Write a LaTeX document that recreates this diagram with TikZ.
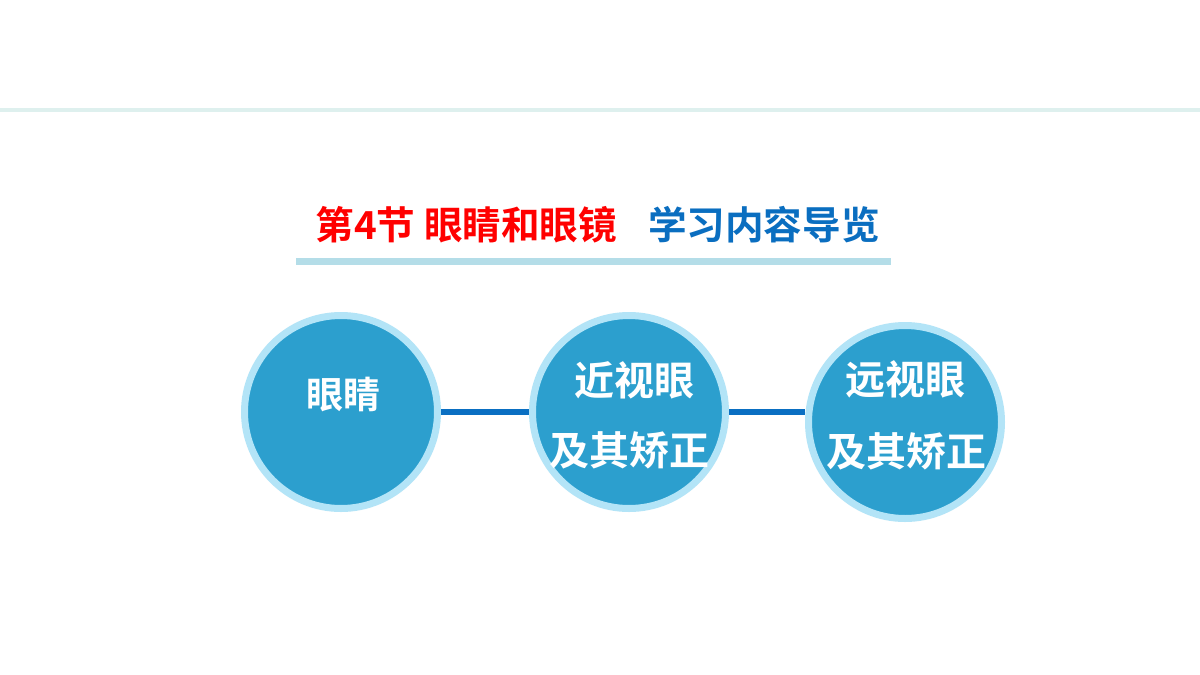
\documentclass[tikz,border=0pt]{standalone}
\usepackage{fontspec}
\newfontfamily\cjk{Noto Sans CJK SC}[BoldFont={Noto Sans CJK SC Bold}]
\definecolor{topline}{HTML}{DEF0EE}
\definecolor{uline}{HTML}{B4DDE8}
\definecolor{ttlred}{HTML}{FF0000}
\definecolor{ttlblue}{HTML}{0A6EC0}
\definecolor{cfill}{HTML}{2C9FCE}
\definecolor{cring}{HTML}{B3E4F7}
\definecolor{conn}{HTML}{0A6FC2}
\tikzset{
  ball/.style={circle, fill=cfill, draw=cring, line width=3.5pt, minimum size=96.5pt, inner sep=0pt},
  conline/.style={draw=conn, line width=3pt},
  ctext/.style={text=white, font=\cjk\bfseries\fontsize{20pt}{24pt}\selectfont, inner sep=0pt},
}
\begin{document}
\begin{tikzpicture}[x=0.5pt,y=-0.5pt]
\useasboundingbox (0,0) rectangle (1200,675);
\fill[white] (0,0) rectangle (1200,675);
\fill[topline] (0,108) rectangle (1200,112);
\fill[uline] (296,258) rectangle (891,265);
\node[anchor=west, inner sep=0pt, font=\cjk\bfseries\fontsize{19.3pt}{23pt}\selectfont] (title) at (315,225)
  {\textcolor{ttlred}{第4节 眼睛和眼镜}\hspace{15.5pt}\textcolor{ttlblue}{学习内容导览}};
\node[ball] (c1) at (341,412) {};
\node[ball] (c2) at (629,412) {};
\node[ball] (c3) at (905,422) {};
\coordinate (c2e) at (c2.east);
\coordinate (c3w) at (c3.west |- c2e);
\draw[conline] (c1.east) -- (c2.west);
\draw[conline] (c2e) -- (c3w);
\node[ctext, font=\cjk\bfseries\fontsize{18.5pt}{22pt}\selectfont] (t1) at (343,395) {眼睛};
\node[ctext] (t2a) at (634,380) {近视眼};
\node[ctext] (t2b) at (629,450) {及其矫正};
\node[ctext] (t3a) at (905,379) {远视眼};
\node[ctext] (t3b) at (906,451) {及其矫正};
\end{tikzpicture}
\end{document}
